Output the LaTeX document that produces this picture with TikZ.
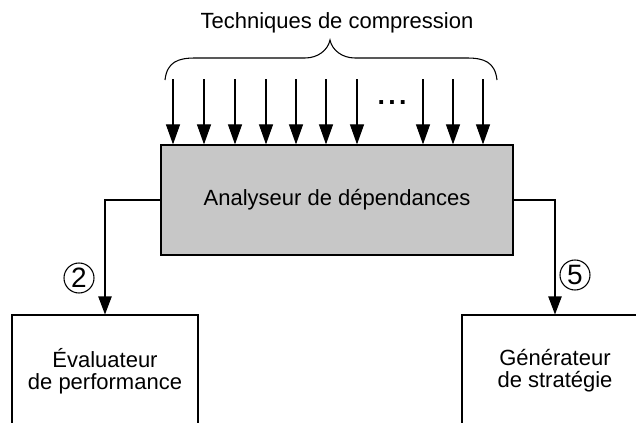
\documentclass[tikz,border=0pt]{standalone}
\usepackage{fontspec}
\setmainfont{Liberation Sans}
\usetikzlibrary{arrows.meta}
\begin{document}
\begin{tikzpicture}[x=0.75pt,y=-0.75pt,
  txt/.style={font=\fontsize{16.5}{16.5}\selectfont, align=center, inner sep=0pt},
  arr/.style={line width=0.8pt, -{Triangle[length=15pt,width=10.5pt]}},
  conn/.style={line width=0.8pt, -{Triangle[length=13.5pt,width=10pt]}},
  mainbox/.style={draw, line width=0.9pt, fill=black!22, minimum width=264pt, minimum height=82.5pt, inner sep=0pt, font=\fontsize{16.5}{16.5}\selectfont},
  openbox/.style={draw, line width=0.8pt, minimum width=139.5pt, minimum height=84pt, inner sep=0pt, align=center, font=\fontsize{16.5}{16.5}\selectfont},
  num/.style={draw, circle, line width=0.8pt, minimum size=22.5pt, inner sep=0pt, font=\fontsize{21}{21}\selectfont}]
\clip (0,0) rectangle (636,422);
\fill[white] (0,0) rectangle (636,422);

\node[txt] (title) at (337,23) {Techniques de compression};
\draw[line width=0.8pt] (165,80) .. controls (167,62) and (178,58) .. (195,58) -- (305,58)
  .. controls (318,58) and (328,50) .. (330,40)
  .. controls (332,50) and (342,58) .. (355,58) -- (467,58)
  .. controls (484,58) and (495,62) .. (497,80);

\node[mainbox] (ana) at (337,200) {Analyseur de dépendances};

\foreach \i/\x in {1/173,2/204,3/235,4/266,5/296,6/326,7/357,8/423,9/453,10/483}{
  \coordinate (t\i) at (\x,79);
  \draw[arr] (t\i) -- (t\i |- ana.north);
}
\node[font=\bfseries\fontsize{20}{20}\selectfont, inner sep=0pt, anchor=base] (dots) at (392,104) {.\hspace{2.5pt}.\hspace{2.5pt}.};

\node[openbox] (eval) at (105,371) {Évaluateur\\de performance};
\node[openbox] (gen) at (555,371) {Générateur\\de stratégie};

\draw[conn] (ana.west) -| (eval.north);
\draw[conn] (ana.east) -| (gen.north);

\node[num] (n2) at (79,278) {2};
\node[num] (n5) at (575,275) {5};
\end{tikzpicture}
\end{document}
